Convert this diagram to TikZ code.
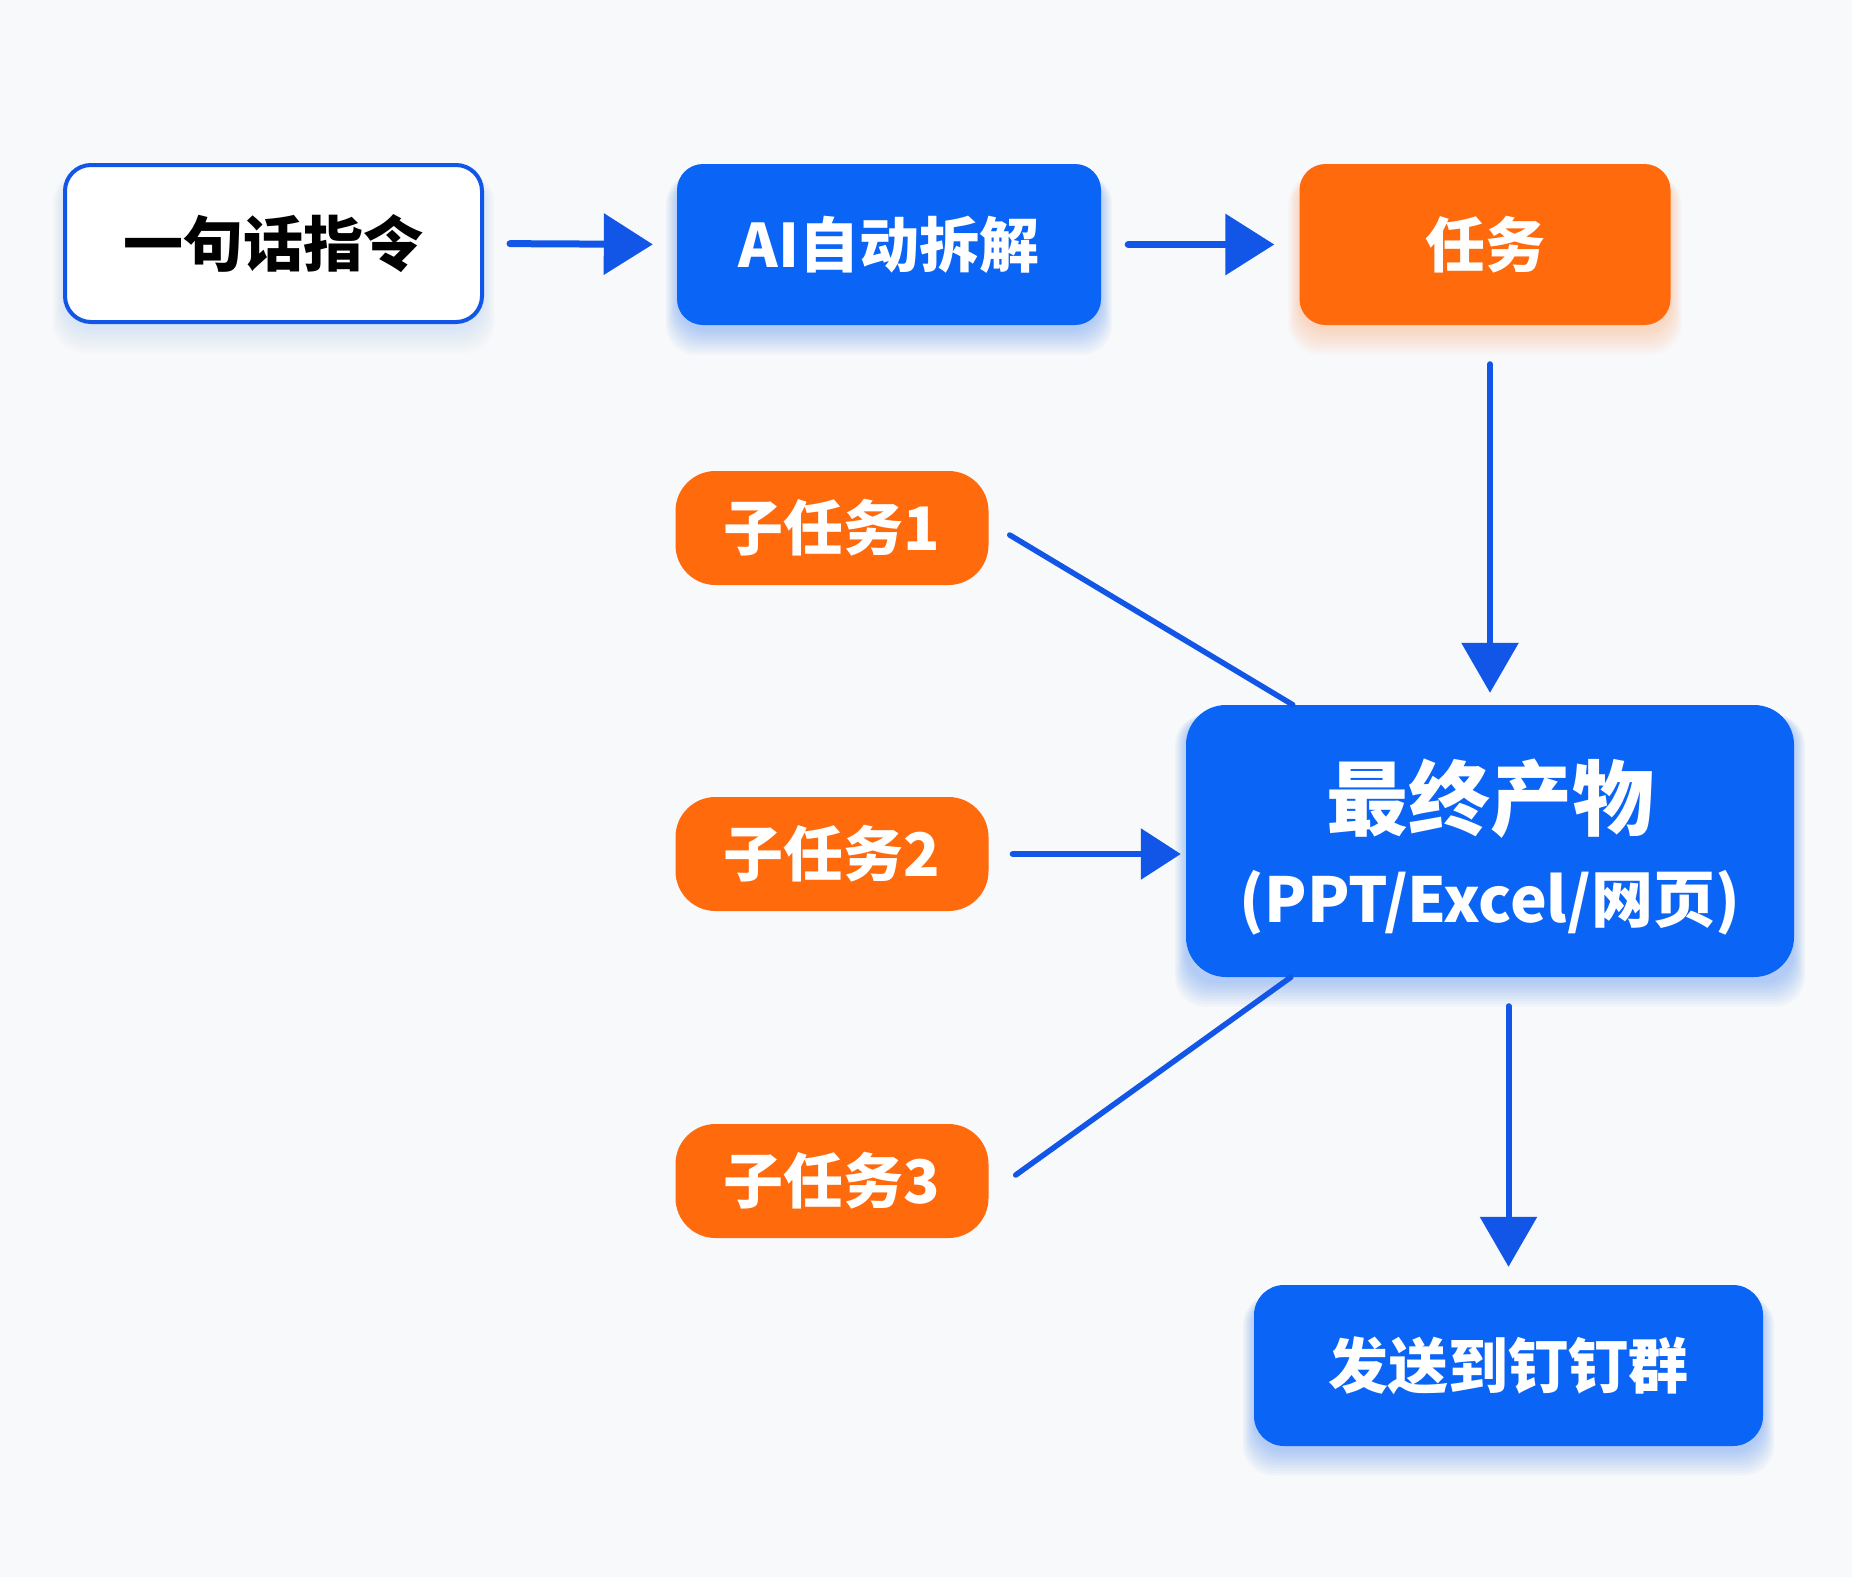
\documentclass[tikz,border=0pt]{standalone}
\usepackage{fontspec}
\newfontfamily\cjk{Noto Sans CJK SC}
\usetikzlibrary{arrows.meta,calc,backgrounds}
\definecolor{bg}{RGB}{248,249,250}
\definecolor{mainblue}{RGB}{10,100,245}
\definecolor{lineblue}{RGB}{18,86,232}
\definecolor{mainorange}{RGB}{255,106,12}
\tikzset{
  boxbase/.style={inner sep=0pt, font=\cjk\bfseries\fontsize{60}{66}\selectfont},
  bluebox/.style={boxbase, fill=mainblue, text=white, rounded corners=26pt},
  orangebox/.style={boxbase, fill=mainorange, text=white, rounded corners=26pt},
  whitebox/.style={boxbase, fill=white, draw=lineblue, line width=4pt, text=black, rounded corners=26pt},
  hflow/.style={draw=lineblue, line width=7pt, line cap=round, -{Triangle[length=49pt,width=60pt]}},
  vflow/.style={draw=lineblue, line width=6pt, line cap=round, -{Triangle[length=50pt,width=56pt]}},
  joinline/.style={draw=lineblue, line width=5.5pt, line cap=round},
}
\newcommand\glowbox[3]{%
  \begin{pgfonlayer}{background}
  \foreach \k in {0,...,9}{%
    \fill[#2, opacity=#3, rounded corners=30pt]
      ($(#1.north west)+(-\k*1.2, 10)$) rectangle ($(#1.south east)+(\k*1.2, 6+\k*2.6)$);
  }%
  \end{pgfonlayer}%
}
\begin{document}
\begin{tikzpicture}[x=1pt,y=-1pt]
\begin{pgfonlayer}{background}
\fill[bg] (0,0) rectangle (1852,1577);
\end{pgfonlayer}
\useasboundingbox (0,0) rectangle (1852,1577);

\node[whitebox, minimum width=417pt, minimum height=157pt] (cmd) at (273.5,243.5) {一句话指令};
\node[bluebox, minimum width=424pt, minimum height=161pt] (ai) at (889,244.5) {AI自动拆解};
\node[orangebox, minimum width=371pt, minimum height=161pt] (task) at (1485,244.5) {任务};

\node[orangebox, rounded corners=40pt, minimum width=313pt, minimum height=114pt] (s1) at (832,528) {子任务1};
\node[orangebox, rounded corners=40pt, minimum width=313pt, minimum height=114pt] (s2) at (832,854) {子任务2};
\node[orangebox, rounded corners=40pt, minimum width=313pt, minimum height=114pt] (s3) at (832,1181) {子任务3};

\node[bluebox, rounded corners=40pt, minimum width=608pt, minimum height=272pt] (fin) at (1490,841) {};
\node[boxbase, text=white, align=center, font=\cjk\bfseries\fontsize{62}{93}\selectfont] (fintext)
  at ($(fin.center)+(0,6)$) {{\fontsize{82}{93}\selectfont 最终产物}\\(PPT/Excel/网页)};

\node[bluebox, rounded corners=30pt, minimum width=509pt, minimum height=161pt] (send) at (1508.5,1365.5) {发送到钉钉群};

\glowbox{cmd}{mainblue}{0.012}
\glowbox{ai}{mainblue}{0.03}
\glowbox{task}{mainorange}{0.025}
\glowbox{fin}{mainblue}{0.03}
\glowbox{send}{mainblue}{0.03}

\draw[hflow, shorten <=26pt, shorten >=24pt] (cmd.east) -- (ai.west);
\draw[hflow, shorten <=27pt, shorten >=25pt] (ai.east) -- (task.west);
\draw[vflow, shorten <=39pt, shorten >=12pt] (fin.north |- task.south) -- (fin.north);
\draw[hflow, line width=6pt, -{Triangle[length=40pt,width=50pt]}, shorten <=24pt, shorten >=5pt] (s2.east) -- (s2.east -| fin.west);
\coordinate (j1) at ($(fin.north west)+(107,0)$);
\coordinate (j3) at ($(fin.south west)+(105,0)$);
\draw[joinline] ($(s1.east)+(21,7)$) -- (j1);
\draw[joinline] ($(s3.east)+(27,-6)$) -- (j3);
\draw[vflow, shorten <=29pt, shorten >=18pt] (send.north |- fin.south) -- (send.north);
\end{tikzpicture}
\end{document}
